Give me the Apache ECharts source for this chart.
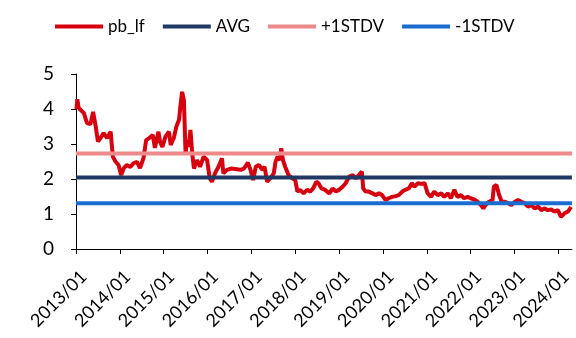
<!DOCTYPE html>
<html>
<head>
<meta charset="utf-8">
<script src="https://cdn.jsdelivr.net/npm/echarts@6/dist/echarts.min.js"></script>
<style>
  html, body { margin: 0; padding: 0; background: #fff; }
  #chart { width: 576px; height: 338px; }
</style>
</head>
<body>
<div id="chart"></div>
<script>
// Observation times as decimal years
const years = [
  2013.01, 2013.03, 2013.06, 2013.11, 2013.18, 2013.25, 2013.33, 2013.39, 2013.45, 2013.50,
  2013.56, 2013.63, 2013.71, 2013.79, 2013.84, 2013.90, 2013.97, 2014.03, 2014.09, 2014.16,
  2014.24, 2014.31, 2014.39, 2014.46, 2014.54, 2014.60, 2014.67, 2014.75, 2014.80, 2014.88,
  2014.92, 2014.97, 2015.04, 2015.12, 2015.16, 2015.23, 2015.29, 2015.35, 2015.38, 2015.42,
  2015.46, 2015.50, 2015.53, 2015.57, 2015.61, 2015.65, 2015.69, 2015.76, 2015.83, 2015.91,
  2015.99, 2016.05, 2016.10, 2016.17, 2016.25, 2016.33, 2016.36, 2016.44, 2016.55, 2016.67,
  2016.76, 2016.83, 2016.92, 2016.98, 2017.04, 2017.10, 2017.17, 2017.25, 2017.30, 2017.36,
  2017.43, 2017.51, 2017.55, 2017.60, 2017.65, 2017.68, 2017.72, 2017.77, 2017.85, 2017.93,
  2018.00, 2018.05, 2018.11, 2018.19, 2018.27, 2018.34, 2018.41, 2018.48, 2018.53, 2018.60,
  2018.68, 2018.78, 2018.85, 2018.93, 2019.00, 2019.08, 2019.15, 2019.23, 2019.31, 2019.38,
  2019.45, 2019.52, 2019.55, 2019.61, 2019.68, 2019.76, 2019.83, 2019.91, 2019.98, 2020.06,
  2020.13, 2020.21, 2020.29, 2020.36, 2020.44, 2020.51, 2020.59, 2020.66, 2020.72, 2020.80,
  2020.87, 2020.95, 2021.02, 2021.10, 2021.17, 2021.25, 2021.33, 2021.40, 2021.48, 2021.55,
  2021.63, 2021.70, 2021.78, 2021.85, 2021.93, 2022.00, 2022.08, 2022.16, 2022.23, 2022.29,
  2022.34, 2022.42, 2022.50, 2022.53, 2022.59, 2022.65, 2022.71, 2022.78, 2022.86, 2022.93,
  2023.01, 2023.08, 2023.16, 2023.23, 2023.31, 2023.38, 2023.46, 2023.54, 2023.61, 2023.69,
  2023.76, 2023.84, 2023.91, 2023.99, 2024.06, 2024.14, 2024.22, 2024.29
];

// P/B (LF) values
const pbLf = [
  4.00, 4.28, 4.03, 3.97, 3.88, 3.60, 3.57, 3.92, 3.50, 3.07,
  3.17, 3.31, 3.17, 3.35, 2.64, 2.50, 2.40, 2.11, 2.31, 2.40,
  2.34, 2.45, 2.49, 2.31, 2.60, 3.11, 3.17, 3.26, 2.89, 3.35,
  3.05, 2.92, 3.21, 3.35, 2.97, 3.17, 3.50, 3.69, 4.07, 4.49,
  4.26, 2.69, 3.11, 2.92, 3.40, 2.74, 2.30, 2.54, 2.35, 2.64,
  2.54, 2.02, 1.92, 2.16, 2.35, 2.59, 2.16, 2.26, 2.30, 2.28,
  2.26, 2.30, 2.47, 2.26, 1.97, 2.35, 2.40, 2.26, 2.35, 1.92,
  2.02, 2.16, 2.49, 2.64, 2.54, 2.88, 2.54, 2.35, 2.11, 2.02,
  1.97, 1.64, 1.69, 1.59, 1.69, 1.64, 1.73, 1.92, 1.88, 1.73,
  1.69, 1.59, 1.73, 1.64, 1.69, 1.78, 1.88, 2.07, 2.11, 2.02,
  2.11, 2.21, 1.73, 1.64, 1.64, 1.59, 1.54, 1.59, 1.54, 1.40,
  1.45, 1.49, 1.51, 1.54, 1.64, 1.69, 1.73, 1.88, 1.78, 1.88,
  1.86, 1.88, 1.59, 1.49, 1.64, 1.54, 1.59, 1.49, 1.59, 1.45,
  1.69, 1.49, 1.54, 1.45, 1.49, 1.45, 1.42, 1.35, 1.26, 1.16,
  1.26, 1.35, 1.40, 1.78, 1.83, 1.54, 1.35, 1.35, 1.31, 1.26,
  1.35, 1.40, 1.35, 1.31, 1.21, 1.26, 1.16, 1.21, 1.11, 1.16,
  1.11, 1.13, 1.07, 1.11, 0.92, 1.02, 1.07, 1.20
];

// Reference bands
const avgValue = 2.04;
const plusStdValue = 2.73;
const minusStdValue = 1.31;

// Axis extents
const xStart = 2013;
const xEnd = 2024.31;
const yTicks = [0, 1, 2, 3, 4, 5];

const seriesNames = ['pb_lf', 'AVG', '+1STDV', '-1STDV'];
const seriesColors = ['#d7000f', '#203864', '#ef8a8a', '#1a6dd0'];

const fontFamily = 'Lato, "Open Sans", sans-serif';

const flatLine = v => [[xStart, v], [xEnd, v]];

const chart = echarts.init(document.getElementById('chart'), null, { renderer: 'canvas' });

chart.setOption({
  animation: false,
  backgroundColor: '#fff',
  color: seriesColors,
  legend: {
    data: seriesNames,
    left: 50,
    top: 13,
    icon: 'rect',
    itemWidth: 48,
    itemHeight: 4,
    itemGap: 18,
    textStyle: { fontSize: 17, color: '#000', fontFamily: fontFamily }
  },
  grid: { left: 76, right: 0, top: 74, bottom: 89, containLabel: false },
  xAxis: {
    type: 'value',
    min: xStart,
    max: xEnd,
    interval: 1,
    axisLine: { show: true, onZero: false, lineStyle: { color: '#000', width: 1 } },
    axisTick: { show: true, length: 5, lineStyle: { color: '#000' } },
    splitLine: { show: false },
    axisLabel: {
      rotate: 45,
      margin: 17,
      align: 'right',
      verticalAlign: 'top',
      lineHeight: 22,
      showMaxLabel: false,
      fontSize: 18,
      color: '#000',
      fontFamily: fontFamily,
      formatter: v => (Math.abs(v - Math.round(v)) < 1e-6 ? Math.round(v) + '/01' : '')
    }
  },
  yAxis: {
    type: 'value',
    min: yTicks[0],
    max: yTicks[yTicks.length - 1],
    interval: 1,
    axisLine: { show: true, lineStyle: { color: '#000', width: 1 } },
    axisTick: { show: true, length: 5, lineStyle: { color: '#000' } },
    splitLine: { show: false },
    axisLabel: { margin: 22, fontSize: 19, color: '#000', fontFamily: fontFamily }
  },
  series: [
    {
      name: seriesNames[0], type: 'line', showSymbol: false, symbol: 'none',
      lineStyle: { width: 4, color: seriesColors[0] },
      data: years.map((t, i) => [t, pbLf[i]])
    },
    {
      name: seriesNames[1], type: 'line', showSymbol: false, symbol: 'none',
      lineStyle: { width: 4, color: seriesColors[1] },
      data: flatLine(avgValue)
    },
    {
      name: seriesNames[2], type: 'line', showSymbol: false, symbol: 'none',
      lineStyle: { width: 4, color: seriesColors[2] },
      data: flatLine(plusStdValue)
    },
    {
      name: seriesNames[3], type: 'line', showSymbol: false, symbol: 'none',
      lineStyle: { width: 4, color: seriesColors[3] },
      data: flatLine(minusStdValue)
    }
  ]
});
</script>
</body>
</html>
